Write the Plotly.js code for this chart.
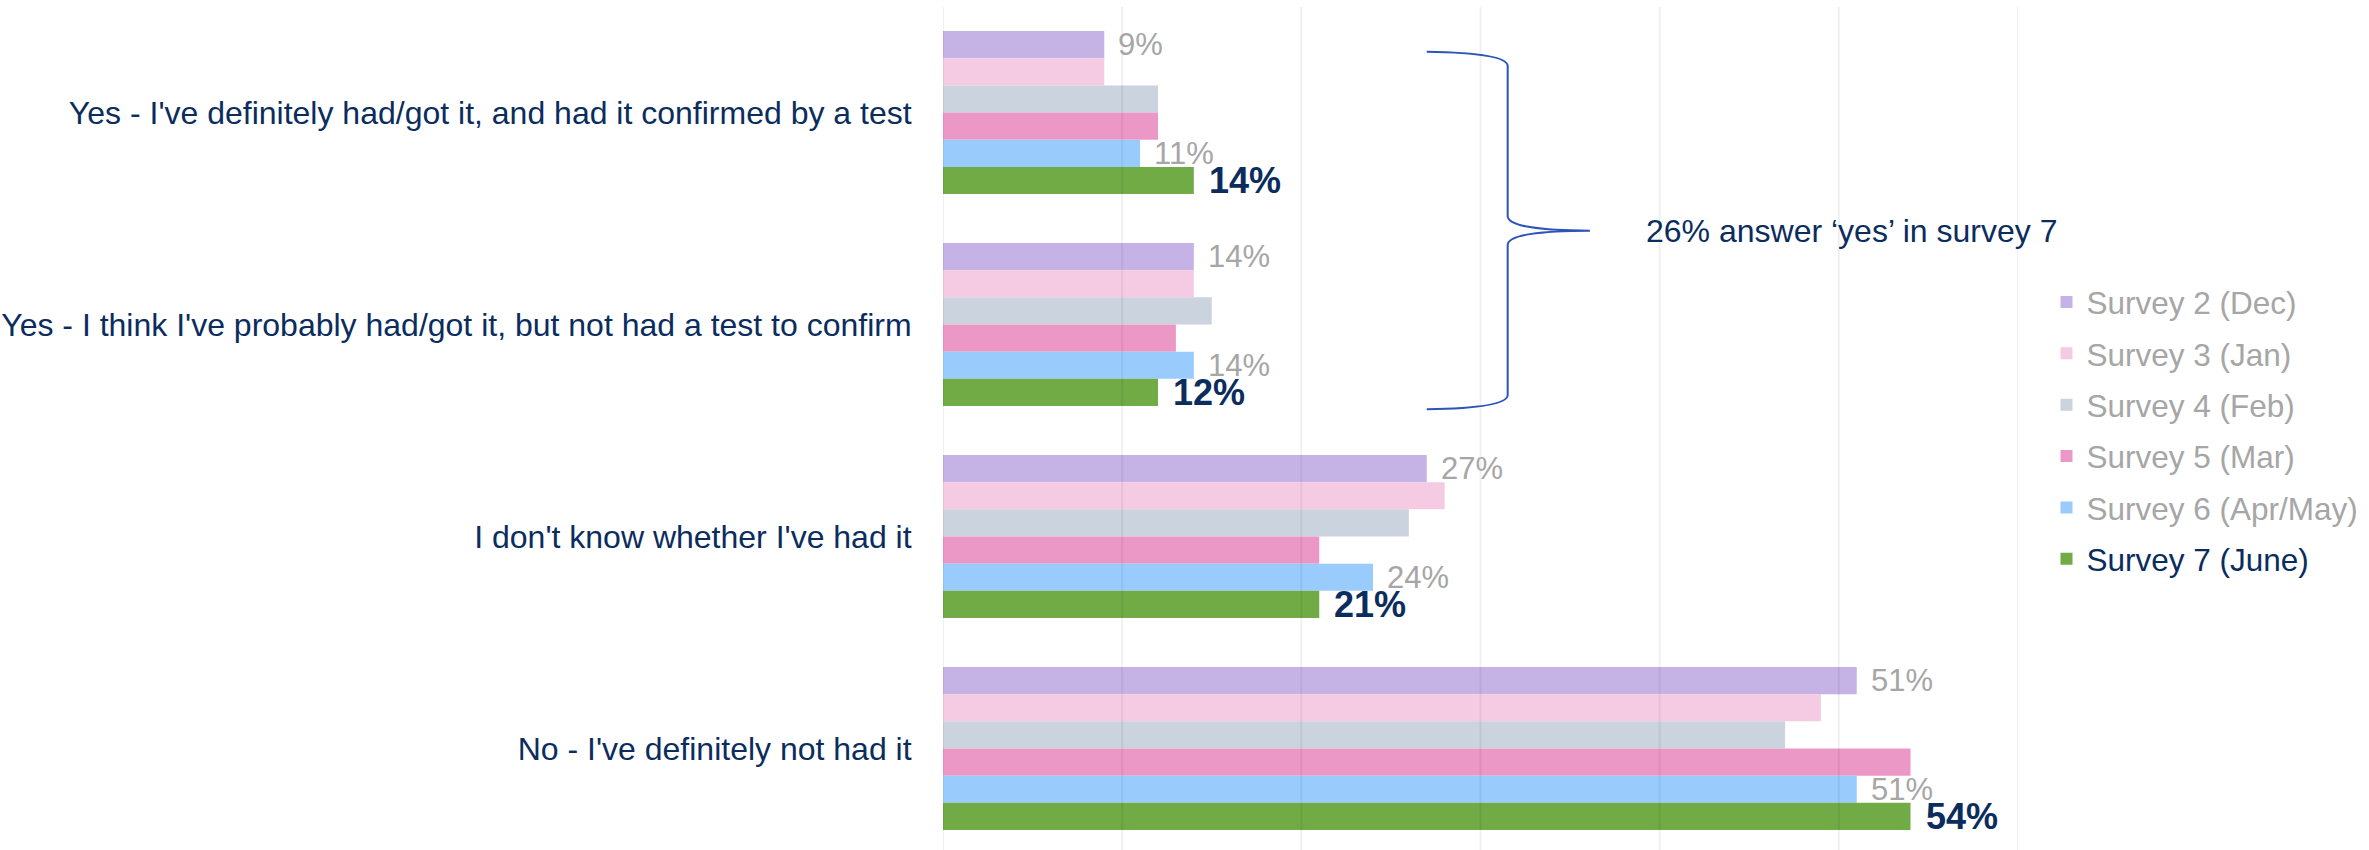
<!DOCTYPE html>
<html>
<head>
<meta charset="utf-8">
<script src="https://cdn.plot.ly/plotly-3.0.1.min.js"></script>
<style>html,body{margin:0;padding:0;background:#fff;}#chart{width:2369px;height:850px;}</style>
</head>
<body>
<div id="chart"></div>
<script>
// ---- data ----
const categories = [
  "Yes - I've definitely had/got it, and had it confirmed by a test",
  "Yes - I think I've probably had/got it, but not had a test to confirm",
  "I don't know whether I've had it",
  "No - I've definitely not had it"
];
const seriesNames = ['Survey 2 (Dec)', 'Survey 3 (Jan)', 'Survey 4 (Feb)', 'Survey 5 (Mar)', 'Survey 6 (Apr/May)', 'Survey 7 (June)'];
const survey2 = [9, 14, 27, 51];
const survey3 = [9, 14, 28, 49];
const survey4 = [12, 15, 26, 47];
const survey5 = [12, 13, 21, 54];
const survey6 = [11, 14, 24, 51];
const survey7 = [14, 12, 21, 54];
const labelledSeries = [0, 4, 5];      // series that carry value labels
const highlightSeries = 5;             // Survey 7 label is bold
const gridValues = [0, 10, 20, 30, 40, 50, 60];
const braceNote = '26% answer \u2018yes\u2019 in survey 7';

// ---- style ----
const seriesValues = [survey2, survey3, survey4, survey5, survey6, survey7];
const colors = ['#c5b3e6', '#f5cbe3', '#cbd3df', '#eb98c7', '#99cbfd', '#70ab46'];
const navy = '#0b2d5e';
const grey = '#a6a6a6';
const FONT = 'Liberation Sans, Arial, sans-serif';
const W = 2369, H = 850;
const M = {l: 942.5, r: 350.5, t: 7, b: 0};
const bargap = 0.231;
const plotW = W - M.l - M.r, plotH = H - M.t - M.b;

function px(xp) { return (xp - M.l) / plotW; }
function py(yp) { return 1 - (yp - M.t) / plotH; }

const traces = seriesValues.map((vals, i) => ({
  type: 'bar',
  orientation: 'h',
  name: i === highlightSeries ? '<span style="color:' + navy + '">' + seriesNames[i] + '</span>' : seriesNames[i],
  legendgroup: 'g' + i,
  y: categories,
  x: vals,
  marker: {color: colors[i], line: {width: 0}},
  hoverinfo: 'x+name'
}));

// value labels
const annotations = [];
const slot = (1 - bargap) / seriesValues.length;
labelledSeries.forEach(si => {
  const bold = si === highlightSeries;
  seriesValues[si].forEach((v, ci) => {
    annotations.push({
      xref: 'x', yref: 'y',
      x: v, y: ci + (si - (seriesValues.length - 1) / 2) * slot,
      text: bold ? '<b>' + v + '%</b>' : v + '%',
      showarrow: false, xanchor: 'left', yanchor: 'middle',
      xshift: bold ? 13 : 12,
      font: {family: FONT, size: bold ? 36 : 31, color: bold ? navy : grey}
    });
  });
});

annotations.push({
  xref: 'paper', yref: 'paper',
  x: px(1644), y: py(231),
  text: braceNote, showarrow: false, xanchor: 'left', yanchor: 'middle',
  font: {family: FONT, size: 32, color: navy}
});

// gridlines above bars (semi-transparent)
const shapes = gridValues.map(g => ({
  type: 'line', xref: 'x', yref: 'paper', x0: g, x1: g, y0: 0, y1: 1,
  line: {color: 'rgba(0,0,0,0.06)', width: 2}, layer: 'above'
}));

// curly brace
function P(x, y) { return px(x).toFixed(5) + ',' + py(y).toFixed(5); }
const brace = 'M' + P(1426.7, 51.7) +
  ' C' + P(1480, 52.5) + ' ' + P(1507.7, 57) + ' ' + P(1507.7, 66) +
  ' L' + P(1507.7, 216) +
  ' C' + P(1507.7, 226) + ' ' + P(1540, 230.7) + ' ' + P(1590, 230.7) +
  ' C' + P(1540, 230.7) + ' ' + P(1507.7, 235) + ' ' + P(1507.7, 245) +
  ' L' + P(1507.7, 395) +
  ' C' + P(1507.7, 404) + ' ' + P(1480, 408.5) + ' ' + P(1426.7, 409.3);
shapes.push({type: 'path', xref: 'paper', yref: 'paper', path: brace,
  line: {color: '#2b55b8', width: 2}, fillcolor: 'rgba(0,0,0,0)', layer: 'above'});

const layout = {
  width: W, height: H,
  margin: M,
  paper_bgcolor: '#ffffff', plot_bgcolor: '#ffffff',
  font: {family: FONT, size: 32, color: navy},
  barmode: 'group', bargap: bargap, bargroupgap: 0,
  showlegend: true,
  legend: {
    xref: 'container', yref: 'container',
    x: 2046.5 / W, xanchor: 'left',
    y: 1 - 275 / H, yanchor: 'top',
    traceorder: 'grouped', tracegroupgap: 7.4,
    font: {family: FONT, size: 31.5, color: grey},
    bgcolor: 'rgba(0,0,0,0)', borderwidth: 0
  },
  xaxis: {range: [0, 60], showgrid: false, zeroline: false, showticklabels: false, showline: false, fixedrange: true},
  yaxis: {
    type: 'category', range: [3.479, -0.498],
    showgrid: false, zeroline: false, showline: false,
    ticks: 'outside', ticklen: 24, tickcolor: 'rgba(0,0,0,0)',
    tickfont: {family: FONT, size: 32, color: navy},
    fixedrange: true
  },
  annotations: annotations,
  shapes: shapes
};

Plotly.newPlot('chart', traces, layout, {displayModeBar: false, staticPlot: true});
</script>
</body>
</html>
